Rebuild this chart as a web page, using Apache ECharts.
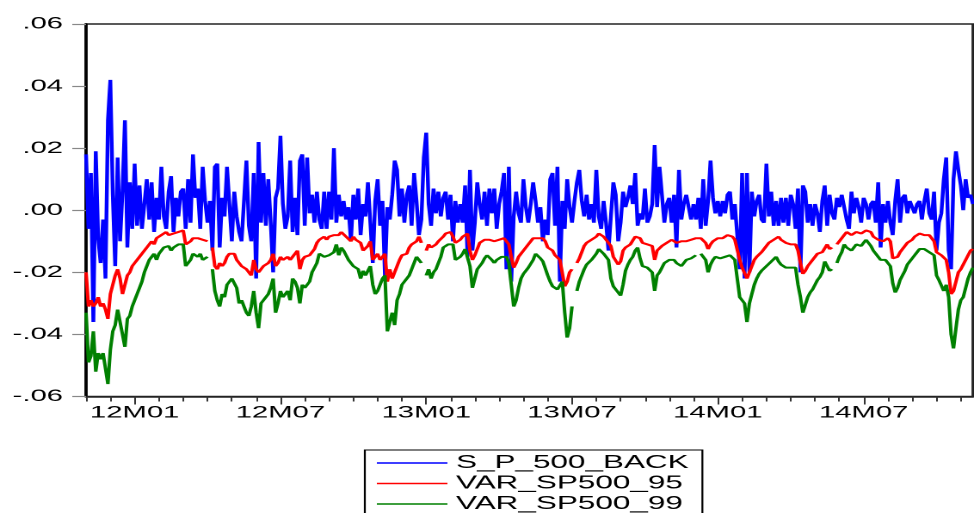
<!DOCTYPE html>
<html>
<head>
<meta charset="utf-8">
<script src="https://cdn.jsdelivr.net/npm/echarts@6/dist/echarts.min.js"></script>
<style>
html,body{margin:0;padding:0;background:#fff;overflow:hidden;}
#chart{width:566px;height:513px;transform:scaleX(1.7208);transform-origin:0 0;}
</style>
</head>
<body>
<div id="chart"></div>
<script>
// Series names (legend)
const seriesNames = ['S_P_500_BACK', 'VAR_SP500_95', 'VAR_SP500_99'];

// Tick labels
const xTickLabels = ['12M01', '12M07', '13M01', '13M07', '14M01', '14M07'];
const xTickIndex = [20, 80, 140, 200, 260, 320];
const monthTickIndex = [0,10,20,30,40,50,60,70,80,90,100,110,120,130,140,150,160,170,180,190,200,210,220,230,240,250,260,270,280,290,300,310,320,330,340,350,360];
const yTickLabels = ['-.06', '-.04', '-.02', '.00', '.02', '.04', '.06'];

// S_P_500_BACK (daily return, sampled)
const blue = [
.018,-.006,.012,-.036,.019,-.009,-.017,-.003,-.022,.029,
.042,.005,-.018,.017,-.010,.006,.029,-.012,.009,-.006,
.015,-.005,.008,-.006,.002,.010,-.003,.009,-.007,.004,
-.003,.014,-.002,-.006,.006,.011,-.007,.004,-.002,.006,
.007,-.006,.010,-.004,.018,.004,.007,-.006,.014,.003,
-.004,.003,-.013,.014,.015,-.012,.004,-.002,.014,.002,
-.010,.006,-.002,-.007,-.010,.003,.016,-.005,-.010,.012,
-.022,.022,-.004,.012,-.005,.010,-.004,-.020,.004,.007,
.024,.002,-.006,-.002,.016,-.007,.004,-.008,.016,.018,
-.005,.017,-.001,.005,-.004,.006,-.003,-.006,.006,-.006,
.006,-.003,.020,-.004,.005,-.002,.003,-.003,.001,-.010,
.005,-.003,.007,-.008,.002,-.002,.009,-.004,-.017,.003,
.010,-.005,.003,-.021,.001,-.003,.005,.016,.013,-.002,
.007,-.004,.005,.008,-.005,.012,.003,-.008,-.003,.017,
.025,.002,-.005,.007,-.001,.006,-.002,.004,.006,-.003,
.005,-.010,.003,-.004,.002,-.004,.008,-.015,.013,-.013,
-.004,.009,.002,-.003,.006,-.005,.007,-.001,.007,-.006,
.002,.006,.012,-.019,.014,-.023,-.002,.006,-.001,-.004,
.010,.001,-.004,.002,.009,.003,-.004,.001,-.010,-.003,
-.008,.010,.012,-.005,.014,-.023,.003,-.006,.010,.001,
-.004,.003,.009,.013,.003,-.002,.005,-.003,.002,-.004,
.013,-.002,-.006,.003,-.004,-.013,-.002,.009,.005,-.010,
-.004,.006,.001,.004,.008,.002,.012,-.005,-.001,-.003,
.007,-.004,-.002,.002,.021,.001,.014,.005,-.004,.002,
.004,-.004,.005,-.012,.013,-.003,.002,.005,.001,-.003,
.002,-.003,.004,-.006,.010,-.005,.003,.016,.004,-.001,
.003,-.002,.003,-.001,.005,.006,-.003,.002,-.008,-.019,
.012,-.022,.012,-.020,.006,-.002,.003,.005,-.003,-.004,
.015,-.002,.006,-.005,.003,-.005,.004,-.004,.004,-.005,
.005,.002,-.006,.007,-.020,.008,.006,-.004,.002,-.005,
.002,-.001,-.007,.003,.008,-.005,.005,-.001,-.003,.004,
.001,.005,.001,-.003,-.006,.006,-.001,.004,.001,-.004,
.004,.002,-.003,.002,.003,-.004,.009,-.012,.002,-.004,
.003,-.004,-.008,.003,.010,-.004,.004,.005,-.001,.003,
.003,-.001,.002,.003,-.003,.003,.007,-.001,-.003,.006,
-.013,-.004,-.001,.010,.017,-.013,-.019,.010,.019,.013,
.008,0,.010,.004,.005,.002
];

// VAR_SP500_95
const red = [
-.020,-.031,-.029,-.031,-.030,-.028,-.031,-.030,-.032,-.035,
-.027,-.024,-.021,-.019,-.022,-.027,-.024,-.021,-.020,-.018,
-.017,-.016,-.015,-.014,-.014,-.012,-.011,-.010,-.011,-.009,
-.009,-.008,-.008,-.007,-.008,-.008,-.0075,-.008,-.007,-.007,
-.0065,-.011,-.011,-.010,-.009,-.0095,-.009,-.0085,-.0095,-.009,
-.010,null,-.012,-.018,-.019,-.017,-.018,-.017,-.015,-.014,
-.014,-.014,-.016,-.017,-.018,-.018,-.019,-.020,-.021,-.016,
-.019,-.020,-.019,-.018,-.018,-.017,-.016,-.014,-.018,-.017,
-.015,-.016,-.0155,-.015,-.016,-.015,-.014,-.013,-.019,-.016,
-.015,-.015,-.0145,-.014,-.0125,-.0105,-.0095,-.009,-.0085,-.0095,
-.0085,-.009,-.008,-.0075,-.008,-.007,-.0075,-.0085,-.009,-.010,
-.0085,-.0095,-.010,-.0105,-.013,-.0125,-.0115,-.010,-.016,-.015,
-.014,-.016,-.015,-.014,-.023,-.019,-.022,-.020,-.018,-.016,
-.0145,-.014,-.014,-.012,-.011,-.0105,-.010,-.0085,-.0105,null,
-.013,-.011,-.012,-.0115,-.011,-.010,-.010,-.0085,-.0075,-.0075,
-.007,-.0085,-.0105,-.010,-.0095,-.0085,-.008,-.0075,-.013,-.016,
-.0145,-.0125,-.0105,-.010,-.0095,-.009,-.0095,-.0095,-.010,-.0105,
-.0095,-.0095,-.009,-.009,-.011,-.015,-.0185,-.017,-.015,-.014,
-.013,-.012,-.011,-.010,-.009,-.0085,-.009,-.009,-.009,-.010,
-.012,-.0125,-.013,-.0145,-.015,-.016,-.016,-.0245,-.023,-.020,
-.019,null,-.017,-.0155,-.0135,-.0115,-.0105,-.010,-.0095,-.0095,
-.0085,-.0075,-.008,-.0085,-.0095,-.0095,-.0115,-.015,-.015,-.0175,
-.0165,-.013,-.012,-.0115,-.011,-.0105,-.0085,-.008,-.009,-.0105,
-.011,-.011,-.0105,-.0115,-.016,-.013,-.0125,-.0115,-.011,-.0105,
-.010,-.0095,-.010,-.0105,-.010,-.010,-.010,-.010,-.0095,-.0095,
-.009,-.009,-.0095,-.009,-.0095,-.0105,-.0125,-.011,-.010,-.0095,
-.009,-.0085,-.009,-.009,-.008,-.0075,-.0085,-.0095,-.010,-.016,
-.0185,-.019,-.022,-.020,-.018,-.016,-.015,-.0145,-.0135,-.0125,
-.0115,-.0105,-.010,-.0095,-.009,-.0085,-.0095,-.010,-.0105,-.0105,
-.011,-.0105,-.011,-.013,-.017,-.0205,-.0195,-.018,-.017,-.016,
-.015,-.014,-.0135,-.0135,-.013,-.011,-.0125,-.012,null,-.011,
-.010,-.009,-.008,-.007,-.0075,-.008,-.0075,-.007,-.0075,-.0075,
-.007,-.0065,-.006,-.007,-.0085,-.009,-.0095,-.010,-.010,-.0095,
-.009,-.010,-.0155,-.016,-.015,-.0135,-.0125,-.0115,-.0105,-.010,
-.0095,-.0085,-.008,-.0075,-.0075,-.008,-.0085,-.008,-.0085,-.010,
-.0135,-.014,-.0145,-.015,-.016,-.020,-.027,-.026,-.023,-.020,
-.019,-.0175,-.016,-.0145,-.013,-.0125
];

// VAR_SP500_99
const green = [
-.033,-.049,-.047,-.039,-.052,-.046,-.048,-.046,-.051,-.056,
-.045,-.039,-.037,-.032,-.036,-.040,-.044,-.035,-.034,-.031,
-.029,-.027,-.025,-.023,-.020,-.018,-.016,-.015,-.014,-.016,
-.014,-.0135,-.012,-.012,-.0115,-.013,-.012,-.0115,-.011,-.0105,
-.011,-.018,-.018,-.016,-.014,-.014,-.015,-.014,-.016,-.016,
-.015,null,-.019,-.026,-.029,-.031,-.027,-.028,-.024,-.023,
-.022,-.0215,-.025,-.030,-.029,-.031,-.033,-.034,-.031,-.026,
-.033,-.038,-.030,-.029,-.028,-.027,-.025,-.022,-.033,-.030,
-.026,-.028,-.027,-.026,-.029,-.022,-.023,-.025,-.030,-.024,
-.025,-.024,-.023,-.020,-.0185,-.017,-.014,-.0145,-.015,-.0155,
-.0145,-.015,-.0135,-.011,-.0145,-.012,-.013,-.0145,-.016,-.0165,
-.018,-.0185,-.019,-.022,-.0195,-.021,-.0195,-.018,-.024,-.027,
-.026,-.024,-.022,-.021,-.039,-.036,-.033,-.037,-.029,-.027,
-.024,-.023,-.022,-.021,-.019,-.017,-.015,-.016,-.017,null,
-.021,-.019,-.022,-.020,-.019,-.017,-.015,-.012,-.012,-.011,
-.0105,-.011,-.016,-.016,-.015,-.014,-.0125,-.012,-.018,-.025,
-.022,-.019,-.018,-.017,-.0155,-.0145,-.015,-.016,-.017,-.016,
-.0165,-.015,-.015,-.015,-.017,-.024,-.031,-.029,-.025,-.022,
-.0205,-.0195,-.0185,-.018,-.016,-.014,-.0145,-.0155,-.0165,-.017,
-.021,-.023,-.0245,-.0245,-.0255,-.025,-.023,-.033,-.041,-.038,
-.031,null,-.026,-.023,-.021,-.019,-.0175,-.017,-.016,-.0155,
-.014,-.0125,-.012,-.014,-.015,-.016,-.022,-.0245,-.024,-.0265,
-.0275,-.024,-.0195,-.0175,-.016,-.015,-.013,-.012,-.0155,-.018,
-.0185,-.0185,-.019,-.020,-.026,-.021,-.020,-.0185,-.017,-.017,
-.016,-.0155,-.016,-.017,-.0175,-.018,-.017,-.016,-.016,-.0155,
-.015,-.0145,null,-.014,-.0145,-.016,-.020,-.0175,-.016,-.015,
-.0145,-.0155,-.016,-.015,-.0145,-.0145,-.015,-.016,-.0165,-.028,
-.029,-.030,-.036,-.030,-.027,-.024,-.022,-.0205,-.0195,-.019,
-.018,-.0175,-.0165,-.016,-.015,-.0165,-.0175,-.018,-.0185,-.019,
-.0185,-.018,-.0185,-.024,-.028,-.033,-.0305,-.028,-.0265,-.0255,
-.024,-.0225,-.0215,-.020,-.0165,-.018,-.0195,-.019,null,-.017,
-.015,-.0135,-.011,-.012,-.0125,-.013,-.012,-.011,-.0115,-.0115,
-.0105,-.0095,-.010,-.0115,-.013,-.014,-.015,-.016,-.0155,-.016,
-.016,-.018,-.0235,-.0265,-.025,-.0225,-.021,-.0195,-.0175,-.0165,
-.0155,-.0145,-.0135,-.0125,-.012,-.0125,-.013,-.0135,-.013,-.0145,
-.021,-.0225,-.023,-.026,-.024,-.028,-.040,-.0445,-.038,-.032,
-.029,-.028,-.025,-.022,-.020,-.0185
];

const categories = blue.map(function (_, i) { return String(i); });
const FONT = '"Liberation Sans", Arial, Helvetica, sans-serif';

const chart = echarts.init(document.getElementById('chart'), null, { renderer: 'canvas', devicePixelRatio: 2 });

const option = {
  animation: false,
  backgroundColor: '#ffffff',
  grid: {
    left: 50, right: 0.6, top: 24, bottom: 116.5, containLabel: false, outerBoundsMode: 'none',
    show: true, backgroundColor: 'transparent', borderColor: '#222', borderWidth: 1.6
  },
  legend: {
    data: seriesNames,
    orient: 'vertical',
    left: 212,
    top: 450,
    height: 90,
    padding: [3, 8, 4, 7],
    itemGap: 0.5,
    itemWidth: 41,
    itemHeight: 1.6,
    icon: 'rect',
    selectedMode: false,
    backgroundColor: '#ffffff',
    borderColor: '#000000',
    borderWidth: 1.1,
    borderRadius: 0,
    textStyle: { fontFamily: FONT, fontSize: 18.3, color: '#000', lineHeight: 20 }
  },
  xAxis: [
    {
      type: 'category', data: categories, boundaryGap: false, position: 'bottom',
      axisLine: { show: true, onZero: false, lineStyle: { color: '#222', width: 1.5 } },
      axisTick: { show: true, length: 5, interval: function (i) { return monthTickIndex.indexOf(i) >= 0; }, lineStyle: { color: '#333', width: 1 } },
      axisLabel: { show: false },
      splitLine: { show: false }
    },
    {
      type: 'category', data: categories, boundaryGap: false, position: 'bottom',
      axisLine: { show: false, onZero: false },
      axisTick: { show: true, length: 8, interval: function (i) { return xTickIndex.indexOf(i) >= 0; }, lineStyle: { color: '#333', width: 1 } },
      axisLabel: {
        show: true, margin: 8, fontFamily: FONT, fontSize: 17, color: '#000',
        interval: function (i) { return xTickIndex.indexOf(i) >= 0; },
        formatter: function (v) { const k = xTickIndex.indexOf(Number(v)); return k >= 0 ? xTickLabels[k] : ''; }
      },
      splitLine: { show: false }
    }
  ],
  yAxis: {
    type: 'value', min: -0.06, max: 0.06, interval: 0.02,
    axisLine: { show: true, onZero: false, lineStyle: { color: '#000', width: 1.8 } },
    axisTick: { show: true, inside: false, length: 8, lineStyle: { color: '#888', width: 1.2 } },
    axisLabel: {
      show: true, margin: 13.4, fontFamily: FONT, fontSize: 17, color: '#000',
      formatter: function (v) { return yTickLabels[Math.round((v + 0.06) / 0.02)]; }
    },
    splitLine: { show: false }
  },
  series: [
    { name: seriesNames[0], type: 'line', data: blue, symbol: 'none', connectNulls: false,
      lineStyle: { color: '#0000ff', width: 2.2 }, itemStyle: { color: '#0000ff' } },
    { name: seriesNames[1], type: 'line', data: red, symbol: 'none', connectNulls: false,
      lineStyle: { color: '#ff0000', width: 2 }, itemStyle: { color: '#ff0000' } },
    { name: seriesNames[2], type: 'line', data: green, symbol: 'none', connectNulls: false,
      lineStyle: { color: '#008000', width: 2 }, itemStyle: { color: '#008000' } }
  ]
};
chart.setOption(option);
</script>
</body>
</html>
